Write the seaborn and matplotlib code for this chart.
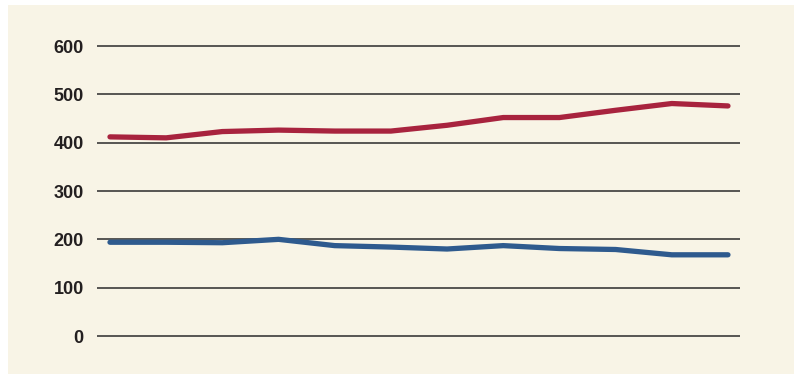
import pandas as pd
import matplotlib.pyplot as plt
from matplotlib.patches import Rectangle
import seaborn as sns
import numpy as np

# values (12 periods, no x labels shown)
periods = list(range(12))
red_series = [412, 410, 423, 426, 424, 424, 436, 452, 452, 467, 481, 476]
blue_series = [194, 194, 193, 200, 187, 184, 180, 187, 181, 179, 168, 168]
yticks = [0, 100, 200, 300, 400, 500, 600]

df = pd.DataFrame({
    'Period': periods * 2,
    'Value': red_series + blue_series,
    'Series': ['red'] * 12 + ['blue'] * 12,
})

sns.set_style('white')
plt.rcParams['font.family'] = ['Liberation Sans', 'DejaVu Sans']

cream = '#f8f4e6'
fig = plt.figure(figsize=(7.94, 3.75), dpi=100, facecolor='white')
# cream panel behind the plot
panel = Rectangle((8 / 794, 1 / 375), 786 / 794, 369 / 375,
                  transform=fig.transFigure, facecolor=cream,
                  edgecolor='none', zorder=-10)
fig.add_artist(panel)

ax = fig.add_axes([97 / 794, 0.0782, 643 / 794, 0.8249])
ax.set_facecolor('none')
ax.set_zorder(1)

sns.lineplot(data=df, x='Period', y='Value', hue='Series',
             palette={'red': '#a8233e', 'blue': '#2e5a8e'},
             linewidth=3.8, legend=False, ax=ax, zorder=3)

ax.set_ylim(-20, 620)
ax.set_xlim(-0.231, 11.214)
ax.set_yticks(yticks)
ax.set_yticklabels([str(t) for t in yticks], fontweight='bold',
                   fontsize=13, color='#231f20')
ax.set_xticks([])
ax.tick_params(axis='y', length=0, pad=9.5)
ax.yaxis.grid(True, color='#2b2b2b', linewidth=1.1)
ax.set_axisbelow(True)
for s in ax.spines.values():
    s.set_visible(False)
ax.set_xlabel('')
ax.set_ylabel('')

fig.savefig('out.png', dpi=100, facecolor='white')
